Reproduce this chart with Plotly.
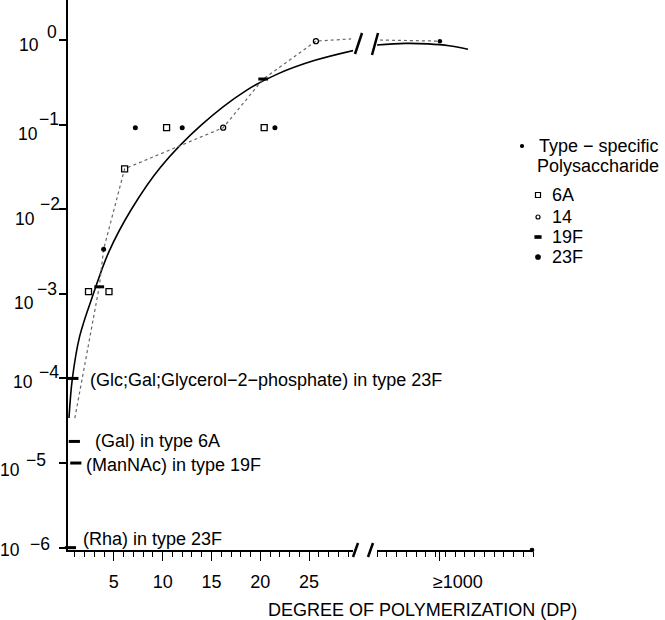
import math
import plotly.graph_objects as go

# ---------------- data ----------------
# Type 6A oligosaccharides (open squares)
DP_6A = [2.4, 4.5, 6.1, 10.4, 20.4]
VAL_6A = [1.06e-3, 1.06e-3, 0.030, 0.092, 0.092]
# Type 14 (open circles)
DP_14 = [16.2, 25.7]
VAL_14 = [0.092, 0.97]
# Type 19F (bars)
DP_19F = [3.5, 20.3]
VAL_19F = [1.21e-3, 0.346]
# Type 23F (filled dots)
DP_23F = [3.95, 7.2, 12.0, 21.5]
VAL_23F = [3.36e-3, 0.092, 0.092, 0.092]
# Type-specific polysaccharide (DP >= 1000), on the broken part of the axis
POLY_LABEL = "≥1000"
POLY_POS = [6.45]
POLY_VAL = [0.97]

# monosaccharides / small fragments at DP ~ 1
MONO_DP = [0.8, 0.95, 1.1, 0.55]
MONO_VAL = [1.0e-4, 1.8e-5, 1.0e-5, 1.0e-6]
MONO_LABELS = ["(Glc;Gal;Glycerol−2−phosphate) in type 23F",
               "(Gal) in type 6A",
               "(ManNAc) in type 19F",
               "(Rha) in type 23F"]

# fitted solid curve
CURVE_DP = [0.4, 0.75, 1.5, 2.9, 4.5, 6.8, 9.8, 14.0, 18.5, 21.8, 25.6, 29.7]
CURVE_VAL = [3.4e-5, 1.0e-4, 3.16e-4, 1.0e-3, 3.16e-3, 1.0e-2, 3.16e-2, 0.1, 0.251, 0.398, 0.575, 0.759]
CURVE_POS_HI = [0.0, 2.88, 5.23, 7.4, 9.33]
CURVE_VAL_HI = [0.873, 0.912, 0.900, 0.855, 0.776]

# dotted connecting line
DOT_DP = [1.0, 3.5, 3.95, 6.1, 16.2, 20.3, 25.7, 29.3]
DOT_VAL = [3.4e-5, 1.21e-3, 3.36e-3, 0.030, 0.092, 0.346, 0.97, 1.03]
DOT_POS_HI = [0.3, 6.45]
DOT_VAL_HI = [1.0, 0.97]

X_TICKS = [5, 10, 15, 20, 25]
DECADES = [0, -1, -2, -3, -4, -5, -6]

# ---------------- layout geometry ----------------
W, H = 665, 620
ML, MB = 68, 70
PW, PH = W - ML, H - MB
FONT = "Liberation Sans, Arial, sans-serif"


def px(x):
    return (x - ML) / PW


def py(y):
    return 1 - y / PH


fig = go.Figure()

# curves
fig.add_trace(go.Scatter(x=CURVE_DP, y=CURVE_VAL, mode="lines",
                         line=dict(color="black", width=1.6, shape="spline", smoothing=1.0),
                         xaxis="x", yaxis="y", showlegend=False, hoverinfo="skip"))
fig.add_trace(go.Scatter(x=CURVE_POS_HI, y=CURVE_VAL_HI, mode="lines",
                         line=dict(color="black", width=1.6, shape="spline", smoothing=1.0),
                         xaxis="x2", yaxis="y", showlegend=False, hoverinfo="skip"))
fig.add_trace(go.Scatter(x=DOT_DP, y=DOT_VAL, mode="lines", line=dict(color="#666", width=1.2, dash="dot"),
                         xaxis="x", yaxis="y", showlegend=False, hoverinfo="skip"))
fig.add_trace(go.Scatter(x=DOT_POS_HI, y=DOT_VAL_HI, mode="lines", line=dict(color="#666", width=1.2, dash="dot"),
                         xaxis="x2", yaxis="y", showlegend=False, hoverinfo="skip"))

# series markers
fig.add_trace(go.Scatter(x=DP_6A, y=VAL_6A, mode="markers", name="6A",
                         marker=dict(symbol="square-open", size=6, color="black", line=dict(width=1.3, color="black")),
                         xaxis="x", yaxis="y", showlegend=False))
fig.add_trace(go.Scatter(x=DP_14, y=VAL_14, mode="markers", name="14",
                         marker=dict(symbol="circle-open", size=5, color="black", line=dict(width=1.3, color="black")),
                         xaxis="x", yaxis="y", showlegend=False))
fig.add_trace(go.Scatter(x=DP_19F, y=VAL_19F, mode="markers", name="19F",
                         marker=dict(symbol="line-ew", size=7, color="black", line=dict(width=3, color="black")),
                         xaxis="x", yaxis="y", showlegend=False))
fig.add_trace(go.Scatter(x=DP_23F, y=VAL_23F, mode="markers", name="23F",
                         marker=dict(symbol="circle", size=5, color="black"),
                         xaxis="x", yaxis="y", showlegend=False))
fig.add_trace(go.Scatter(x=POLY_POS, y=POLY_VAL, mode="markers", name="Polysaccharide",
                         marker=dict(symbol="circle", size=4.5, color="black"),
                         xaxis="x2", yaxis="y", showlegend=False))
fig.add_trace(go.Scatter(x=MONO_DP, y=MONO_VAL, mode="markers", name="monomers",
                         marker=dict(symbol="line-ew", size=8, color="black", line=dict(width=3, color="black")),
                         xaxis="x", yaxis="y", showlegend=False, cliponaxis=False))

ann = []
# y tick labels: "10" with a raised exponent
X10 = [29, 27.5, 25, 24, 23, 10, 10]
XEXP = [52, 48.5, 50, 46.5, 48.5, 36, 40]
DY10 = [5, 9, 10, 9, 4, 7, 2]
DYEXP = [-8, -6, -5, -5, -6, -3, -4]
for i, d in enumerate(DECADES):
    ann.append(dict(x=0, xref="paper", y=d, yref="y", text="10", showarrow=False,
                    xshift=X10[i] - ML, yshift=-DY10[i], xanchor="center", yanchor="middle",
                    font=dict(size=17.5, family=FONT, color="black")))
    ann.append(dict(x=0, xref="paper", y=d, yref="y", text=("0" if d == 0 else "−%d" % (-d)), showarrow=False,
                    xshift=XEXP[i] - ML, yshift=-DYEXP[i], xanchor="center", yanchor="middle",
                    font=dict(size=17.5, family=FONT, color="black")))

# monomer labels
LBL_X = [88, 93, 84, 81]
LBL_DY = [2, 0, 2, -9]
for i, t in enumerate(MONO_LABELS):
    ann.append(dict(x=0, xref="paper", y=math.log10(MONO_VAL[i]), yref="y", text=t, showarrow=False,
                    xshift=LBL_X[i] - ML, yshift=-LBL_DY[i], xanchor="left", yanchor="middle",
                    font=dict(size=18, family=FONT, color="black")))

# x title
ann.append(dict(x=px(423), xref="paper", y=0, yref="paper", yshift=-60, text="DEGREE OF POLYMERIZATION (DP)",
                showarrow=False, xanchor="center", yanchor="middle", font=dict(size=18, family=FONT, color="black")))

# legend (manual)
LEG_ROWS = [("Type − specific", 146, 537), ("Polysaccharide", 166, 535), ("6A", 195, 550),
            ("14", 217, 550), ("19F", 237, 550), ("23F", 257, 550)]
for t, yy, xx in LEG_ROWS:
    ann.append(dict(x=px(xx), xref="paper", y=py(yy), yref="paper", text=t, showarrow=False,
                    xanchor="left", yanchor="middle", font=dict(size=18, family=FONT, color="black")))

shapes = []


def key(kind, xx, yy, w, h, filled):
    shapes.append(dict(type=kind, xref="paper", yref="paper", xsizemode="pixel", ysizemode="pixel",
                       xanchor=px(xx), yanchor=py(yy), x0=-w / 2, x1=w / 2, y0=-h / 2, y1=h / 2,
                       line=dict(color="black", width=1.2), fillcolor="black" if filled else "rgba(0,0,0,0)"))


key("circle", 522, 146, 3, 3, True)
key("rect", 538, 195, 5, 5, False)
key("circle", 538, 217, 4, 4, False)
key("rect", 538, 237, 6, 2.5, True)
key("circle", 538, 257, 4.5, 4.5, True)
key("circle", 532, 550, 3.5, 3.5, True)   # end of the x axis

# axis break slashes
for (x0, y0, x1, y1) in [(355, 54, 362, 33), (372, 55, 378, 33), (353, 557, 358, 543), (368, 557, 373, 543)]:
    shapes.append(dict(type="line", xref="paper", yref="paper", x0=px(x0), y0=py(y0), x1=px(x1), y1=py(y1),
                       line=dict(color="black", width=2.5)))

axis_common = dict(showgrid=False, zeroline=False, showline=True, linecolor="black", linewidth=1.5,
                   ticks="outside", ticklen=9, tickwidth=1.3, tickcolor="black",
                   tickfont=dict(size=18, family=FONT, color="black"),
                   minor=dict(tickmode="linear", dtick=1, tick0=0, ticks="outside", ticklen=5,
                              tickwidth=1.1, tickcolor="black"))

fig.update_layout(
    width=W, height=H, margin=dict(l=ML, r=0, t=0, b=MB), paper_bgcolor="white", plot_bgcolor="white",
    font=dict(family=FONT, color="black"),
    xaxis=dict(domain=[0, px(353)], range=[0.3, 29.5], tickvals=X_TICKS, anchor="y",
               ticklabelstandoff=6, **axis_common),
    xaxis2=dict(domain=[px(377), px(533)], range=[0, 16.0], tickvals=POLY_POS, ticktext=[POLY_LABEL],
                anchor="y", ticklabelstandoff=6, ticklabelshift=18, **axis_common),
    yaxis=dict(type="log", range=[-6.028, 0.473], domain=[0, 1], anchor="x", showgrid=False, zeroline=False,
               showline=True, linecolor="black", linewidth=2, ticks="outside", ticklen=7, tickwidth=1.5,
               tickcolor="black", tickvals=[10 ** d for d in DECADES], showticklabels=False),
    annotations=ann, shapes=shapes, showlegend=False,
)

fig.write_html("out.html")
